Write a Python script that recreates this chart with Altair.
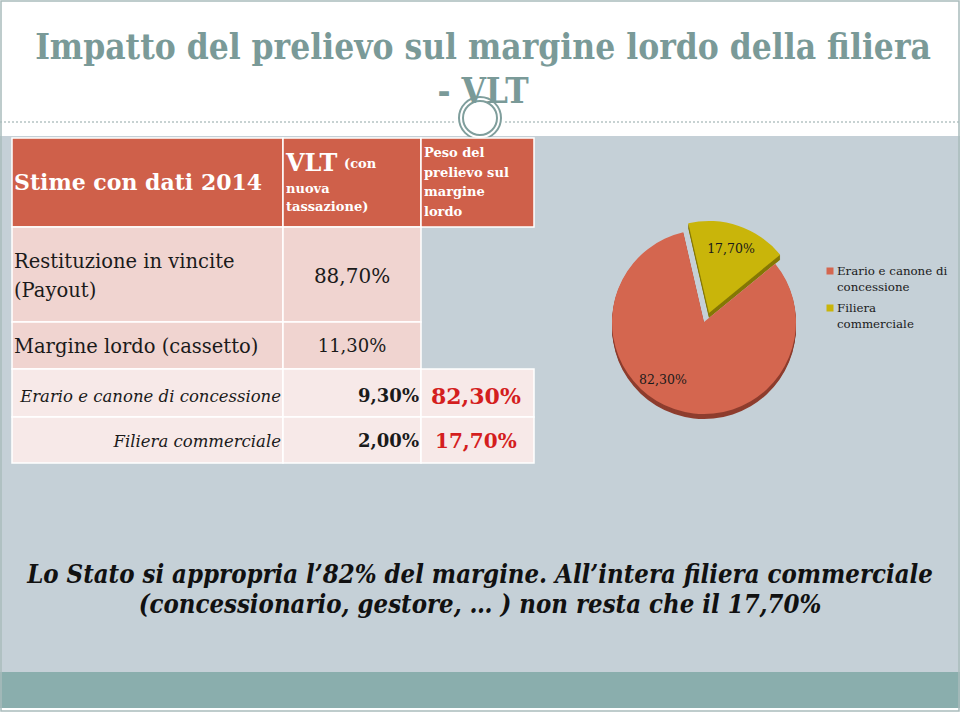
import math
import altair as alt
import pandas as pd

# ------------------------------------------------------------------ data
title_lines = ["Impatto del prelievo sul margine lordo della filiera", "- VLT"]
header_col1 = "Stime con dati 2014"
header_col2 = ["VLT", "(con", "nuova", "tassazione)"]
header_col3 = ["Peso del", "prelievo sul", "margine", "lordo"]
row_labels = [["Restituzione in vincite", "(Payout)"],
              ["Margine lordo (cassetto)"],
              ["Erario e canone di concessione"],
              ["Filiera commerciale"]]
vlt_values = [88.70, 11.30, 9.30, 2.00]
peso_values = [82.30, 17.70]
pie_categories = ["Erario e canone di concessione", "Filiera commerciale"]
pie_values = [82.30, 17.70]
legend_lines = [["Erario e canone di", "concessione"], ["Filiera", "commerciale"]]
note_lines = ["Lo Stato si appropria l\u201982% del margine. All\u2019intera filiera commerciale",
              "(concessionario, gestore, \u2026 )  non resta che il 17,70%"]


def pct(v):
    return f"{v:.2f}".replace(".", ",") + "%"


# ------------------------------------------------------------------ style / layout
W, H = 960, 712
BG_GRAY = "#c5d0d7"
TEAL = "#8aaead"
TITLE_C = "#7a9a98"
HEAD_RED = "#cf604a"
ROW_PINK = "#f0d4d0"
ROW_LIGHT = "#f7e9e8"
PIE_COLORS = ["#d4664f", "#c9b50a"]
PIE_DARK = ["#8e3d2e", "#857806"]
RED_TXT = "#d41e1e"
DARK = "#1a1a1a"
SERIF = "DejaVu Serif"
COND = "DejaVu Serif Condensed, DejaVu Serif"

XS = alt.Scale(domain=[0, W], range=[0, W])
YS = alt.Scale(domain=[0, H], range=[0, H])


def X(f):
    return alt.X(f, type="quantitative", scale=XS, axis=None)


def Y(f):
    return alt.Y(f, type="quantitative", scale=YS, axis=None)


def rects(rows, **mark):
    df = pd.DataFrame(rows, columns=["x", "x2", "y", "y2"])
    return alt.Chart(df).mark_rect(**mark).encode(
        x=X("x"), x2=alt.X2("x2"), y=Y("y"), y2=alt.Y2("y2"))


def text(rows, **mark):
    df = pd.DataFrame(rows, columns=["t", "x", "y"])
    return alt.Chart(df).mark_text(**mark).encode(x=X("x"), y=Y("y"), text="t:N")


layers = []

# backgrounds
layers.append(rects([[0, W, 136, 672]], color=BG_GRAY))
layers.append(rects([[0, W, 672, 708]], color=TEAL))

# dashed separator
sep = pd.DataFrame({"x": [0, 505], "x2": [455, W], "y": [122, 122]})
layers.append(alt.Chart(sep).mark_rule(color="#8fa5a5", strokeDash=[2, 2], strokeWidth=1).encode(
    x=X("x"), x2=alt.X2("x2"), y=Y("y")))

# ornament ring
ring = pd.DataFrame({"x": [480], "y": [118]})
layers.append(alt.Chart(ring).mark_circle(size=42 * 42, fill="white", stroke="#7f9e9c",
                                          strokeWidth=2, opacity=1).encode(x=X("x"), y=Y("y")))
layers.append(alt.Chart(ring).mark_point(shape="circle", size=34 * 34, filled=False, stroke="#7f9e9c",
                                         strokeWidth=2, opacity=1).encode(x=X("x"), y=Y("y")))

# title
layers.append(text([[title_lines[0], 483, 48]], font=COND, fontSize=35, fontWeight="bold", color=TITLE_C))
layers.append(text([[title_lines[1], 483, 92]], font=COND, fontSize=35, fontWeight="bold", color=TITLE_C))

# table cells
cx = [12, 283, 421, 534]
ry = [138, 227, 322, 369, 417, 463]
cell_kw = dict(stroke="white", strokeWidth=1.5)
layers.append(rects([[cx[i], cx[i + 1], ry[0], ry[1]] for i in range(3)], color=HEAD_RED, **cell_kw))
layers.append(rects([[cx[i], cx[i + 1], ry[r], ry[r + 1]] for r in (1, 2) for i in range(2)],
                    color=ROW_PINK, **cell_kw))
layers.append(rects([[cx[i], cx[i + 1], ry[r], ry[r + 1]] for r in (3, 4) for i in range(3)],
                    color=ROW_LIGHT, **cell_kw))

# header texts
layers.append(text([[header_col1, 14, 183]], font=SERIF, fontSize=22, fontWeight="bold",
                   color="white", align="left"))
layers.append(text([[header_col2[0], 286, 164]], font=SERIF, fontSize=24, fontWeight="bold",
                   color="white", align="left"))
layers.append(text([[header_col2[1], 344, 164]], font=SERIF, fontSize=13, fontWeight="bold",
                   color="white", align="left"))
layers.append(text([[header_col2[2], 286, 189], [header_col2[3], 286, 207]], font=SERIF, fontSize=13,
                   fontWeight="bold", color="white", align="left"))
layers.append(text([[header_col3[i], 424, 153 + 19.5 * i] for i in range(4)], font=SERIF, fontSize=13,
                   fontWeight="bold", color="white", align="left"))

# body texts
layers.append(text([[row_labels[0][0], 14, 262], [row_labels[0][1], 14, 291], [row_labels[1][0], 14, 347]],
                   font=SERIF, fontSize=19.5, color=DARK, align="left"))
layers.append(text([[pct(vlt_values[0]), 352, 277]], font=SERIF, fontSize=20, color=DARK))
layers.append(text([[pct(vlt_values[1]), 352, 347]], font=SERIF, fontSize=18, color=DARK))
layers.append(text([[row_labels[2][0], 281, 397], [row_labels[3][0], 281, 442]], font=SERIF, fontSize=16.5,
                   fontStyle="italic", color=DARK, align="right"))
layers.append(text([[pct(vlt_values[2]), 419, 397], [pct(vlt_values[3]), 419, 442]], font=SERIF,
                   fontSize=18, fontWeight="bold", color=DARK, align="right"))
layers.append(text([[pct(peso_values[0]), 431, 397]], font=SERIF, fontSize=22, fontWeight="bold",
                   color=RED_TXT, align="left"))
layers.append(text([[pct(peso_values[1]), 435, 442]], font=SERIF, fontSize=20, fontWeight="bold",
                   color=RED_TXT, align="left"))

# pie
pie = pd.DataFrame({"cat": pie_categories, "value": pie_values, "idx": [0, 1],
                    "label": [pct(v) for v in pie_values]})
a0 = math.radians(50.7)
theta = alt.Theta("value:Q", stack=True,
                  scale=alt.Scale(type="linear", domain=[0, sum(pie_values)], range=[a0, a0 + 2 * math.pi]))
order = alt.Order("idx:Q")
R = 92
centers = [(704, 322), (709, 313)]
depth = 5
for k, (px, py) in enumerate(centers):
    show = alt.condition(alt.datum.cat == pie_categories[k], alt.value(1), alt.value(0))
    dark = alt.condition(alt.datum.cat == pie_categories[0], alt.value(PIE_DARK[0]), alt.value(PIE_DARK[1]))
    for d in range(depth, 0, -1):
        layers.append(alt.Chart(pie).mark_arc(radius=R).encode(
            theta=theta, order=order, color=dark, opacity=show,
            x=alt.value(px), y=alt.value(py + d)))
for k, (px, py) in enumerate(centers):
    show = alt.condition(alt.datum.cat == pie_categories[k], alt.value(1), alt.value(0))
    layers.append(alt.Chart(pie).mark_arc(radius=R).encode(
        theta=theta, order=order,
        color=alt.Color("cat:N", scale=alt.Scale(domain=pie_categories, range=PIE_COLORS), legend=None),
        opacity=show, x=alt.value(px), y=alt.value(py)))
label_offsets = [math.radians(16.5), 0.0]
label_r = [71, 68]
for k, (px, py) in enumerate(centers):
    show = alt.condition(alt.datum.cat == pie_categories[k], alt.value(1), alt.value(0))
    layers.append(alt.Chart(pie).mark_text(radius=label_r[k], thetaOffset=label_offsets[k], font=SERIF,
                                           fontSize=12.5, color=DARK).encode(
        theta=theta, order=order, text="label:N", opacity=show,
        x=alt.value(px), y=alt.value(py)))

# legend
leg = pd.DataFrame({"cat": pie_categories, "x": [830, 830], "y": [271, 308]})
layers.append(alt.Chart(leg).mark_square(size=49, opacity=1).encode(
    x=X("x"), y=Y("y"),
    color=alt.Color("cat:N", scale=alt.Scale(domain=pie_categories, range=PIE_COLORS), legend=None)))
leg_rows = []
for i, lines in enumerate(legend_lines):
    for j, s in enumerate(lines):
        leg_rows.append([s, 837, [271, 308][i] + 16 * j])
layers.append(text(leg_rows, font=SERIF, fontSize=11.8, color=DARK, align="left"))

# bottom note
layers.append(text([[note_lines[0], 480, 575], [note_lines[1], 480, 605]], font=COND, fontSize=25.5,
                   fontWeight="bold", fontStyle="italic", color="#111111"))

# slide frame
layers.append(rects([[1, W - 1, 1, H - 1]], fill=None, filled=False, stroke="#a9bcbc", strokeWidth=1.5))

chart = alt.layer(*layers).properties(
    width=W, height=H, padding=0, autosize=alt.AutoSizeParams(type="none"), background="white"
).configure_view(stroke=None)

chart.save("out.html", embed_options={"renderer": "svg", "actions": False})
